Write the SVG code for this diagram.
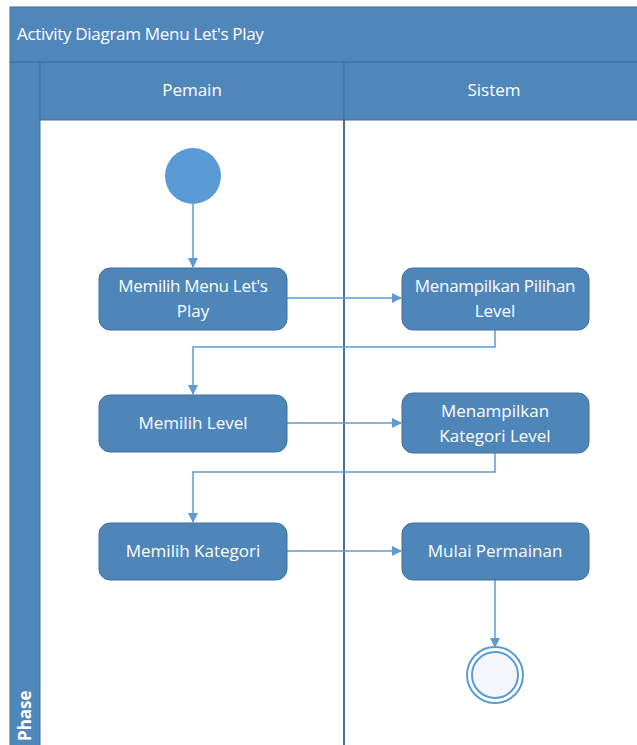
<svg xmlns="http://www.w3.org/2000/svg" width="637" height="745" viewBox="0 0 637 745">
<defs>
<style>
.hdr{fill:#4F87BB;stroke:#41719C;stroke-width:1}
.node rect{fill:#4E86BA;stroke:#41719C;stroke-width:1}
.t{fill:#fff;font-family:"Open Sans","Liberation Sans",sans-serif;font-size:17px;text-anchor:middle}
.h{fill:#fff;font-family:"Open Sans","Liberation Sans",sans-serif;font-size:17px}
.c{fill:none;stroke:#5B9BD5;stroke-width:1.5}
</style>
<marker id="a" markerWidth="10" markerHeight="10" refX="9" refY="5" orient="auto" markerUnits="userSpaceOnUse">
<path d="M0,0 L10,5 L0,10 Z" fill="#5B9BD5"/>
</marker>
</defs>
<rect width="637" height="745" fill="#fff"/>
<g id="pool">
<rect class="hdr" x="10" y="7" width="640" height="55"/>
<text class="h" x="17" y="40" letter-spacing="-0.3">Activity Diagram Menu Let's Play</text>
<rect class="hdr" x="10" y="62" width="30" height="690"/>
<rect class="hdr" x="40" y="62" width="304" height="58"/>
<rect class="hdr" x="344" y="62" width="300" height="58"/>
<text class="t" x="192" y="96" font-size="16">Pemain</text>
<text class="t" x="494" y="96" font-size="16">Sistem</text>
<line x1="344" y1="120" x2="344" y2="745" stroke="#41719C" stroke-width="2"/>
<text class="h" transform="translate(31,741) rotate(-90)" font-weight="bold" font-size="15">Phase</text>
</g>
<g id="connectors">
<path class="c" d="M193,204 V267" marker-end="url(#a)"/>
<path class="c" d="M287,298 H401" marker-end="url(#a)"/>
<path class="c" d="M495,330 V347 H193 V394" marker-end="url(#a)"/>
<path class="c" d="M287,423 H401" marker-end="url(#a)"/>
<path class="c" d="M495,453 V472 H193 V522" marker-end="url(#a)"/>
<path class="c" d="M287,551 H401" marker-end="url(#a)"/>
<path class="c" d="M495,580 V647" marker-end="url(#a)"/>
</g>
<g id="start"><circle cx="193" cy="176" r="28" fill="#5B9BD5"/></g>
<g id="n1" class="node"><rect x="99" y="268" width="188" height="62" rx="11"/><text class="t" x="193" y="292" letter-spacing="-0.3">Memilih Menu Let's</text><text class="t" x="193" y="317">Play</text></g>
<g id="n2" class="node"><rect x="402" y="268" width="187" height="62" rx="11"/><text class="t" x="495" y="292" letter-spacing="-0.3">Menampilkan Pilihan</text><text class="t" x="495" y="317">Level</text></g>
<g id="n3" class="node"><rect x="99" y="395" width="188" height="57" rx="11"/><text class="t" x="193" y="429">Memilih Level</text></g>
<g id="n4" class="node"><rect x="402" y="393" width="187" height="60" rx="11"/><text class="t" x="495" y="417">Menampilkan</text><text class="t" x="495" y="442">Kategori Level</text></g>
<g id="n5" class="node"><rect x="99" y="523" width="188" height="57" rx="11"/><text class="t" x="193" y="557">Memilih Kategori</text></g>
<g id="n6" class="node"><rect x="402" y="523" width="187" height="57" rx="11"/><text class="t" x="495" y="557">Mulai Permainan</text></g>
<g id="end"><circle cx="495" cy="675" r="28" fill="#fff" stroke="#5B9BD5" stroke-width="2"/><circle cx="495" cy="675" r="23" fill="#F4F6FB" stroke="#5B9BD5" stroke-width="2"/></g>
</svg>
